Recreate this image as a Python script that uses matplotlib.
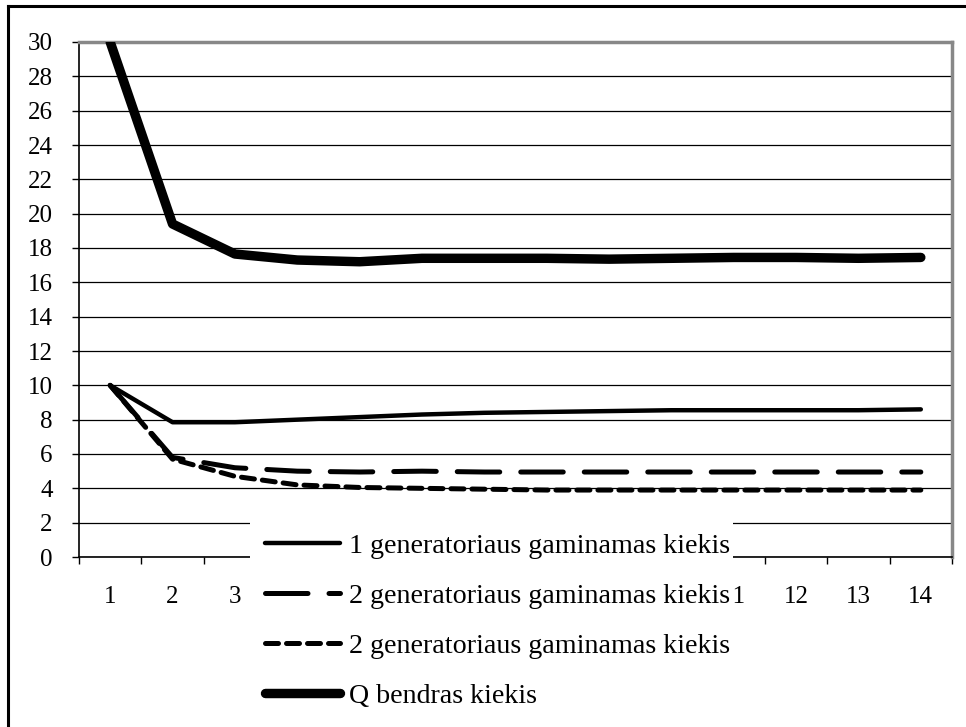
import matplotlib
matplotlib.use("Agg")
import matplotlib.pyplot as plt
from matplotlib.lines import Line2D
from matplotlib.patches import Rectangle

plt.rcParams['font.family'] = ['Liberation Serif', 'DejaVu Serif']

categories = [str(i) for i in range(1, 15)]
gen1 = [10, 7.85, 7.85, 8.0, 8.15, 8.3, 8.4, 8.45, 8.5, 8.55, 8.55, 8.55, 8.55, 8.6]
gen2 = [10, 5.8, 5.2, 5.0, 4.95, 5.0, 4.95, 4.95, 4.95, 4.95, 4.95, 4.95, 4.95, 4.95]
gen3 = [10, 5.7, 4.7, 4.2, 4.05, 4.0, 3.95, 3.9, 3.9, 3.9, 3.9, 3.9, 3.9, 3.9]
total = [30, 19.4, 17.65, 17.3, 17.2, 17.4, 17.4, 17.4, 17.35, 17.4, 17.45, 17.45, 17.4, 17.45]
labels = ["1 generatoriaus gaminamas kiekis",
          "2 generatoriaus gaminamas kiekis",
          "2 generatoriaus gaminamas kiekis",
          "Q bendras kiekis"]
yticks = list(range(0, 31, 2))

W, H = 966, 727
fig = plt.figure(figsize=(W / 100, H / 100), dpi=100)
ax = fig.add_axes([79 / W, 1 - 557 / H, (952 - 79) / W, (557 - 42) / H])

x = list(range(1, len(categories) + 1))
l1, = ax.plot(x, gen1, color='black', lw=3.2, solid_capstyle='round', solid_joinstyle='round', zorder=3)
l2, = ax.plot(x, gen2, color='black', lw=3.6, dashes=(8.5, 4.2), dash_capstyle='round', zorder=3)
l3, = ax.plot(x, gen3, color='black', lw=3.6, dashes=(2.6, 1.6), dash_capstyle='round', zorder=3)
l4, = ax.plot(x, total, color='black', lw=6.8, solid_capstyle='round', solid_joinstyle='round', zorder=4)

ax.set_xlim(0.5, len(categories) + 0.5)
ax.set_ylim(0, 30)
ax.set_yticks(yticks)
ax.set_yticklabels([str(v) for v in yticks])
ax.set_xticks([i + 0.5 for i in range(0, len(categories) + 1)])
ax.set_xticklabels([])
ax.set_xticks(x, minor=True)
ax.set_xticklabels(categories, minor=True)
ax.tick_params(axis='x', which='major', direction='out', length=5, width=1, color='black')
ax.tick_params(axis='x', which='minor', length=0, pad=21, labelsize=18)
ax.tick_params(axis='y', direction='out', length=5, width=1, labelsize=18, pad=14)
ax.yaxis.grid(True, color='black', lw=0.9)
ax.set_axisbelow(True)
for s in ['left', 'bottom']:
    ax.spines[s].set_color('black')
    ax.spines[s].set_linewidth(1.2)
for s in ['top', 'right']:
    ax.spines[s].set_color('#888888')
    ax.spines[s].set_linewidth(2.5)

# labels under the legend area are hidden in the reference
for t in ax.get_xticklabels(minor=True):
    if t.get_text() in ['4', '5', '6', '7', '8', '9', '10']:
        t.set_visible(False)

# white legend area
fig.patches.append(Rectangle((250 / W, 0), (733 - 250) / W, 1 - 521 / H,
                             transform=fig.transFigure, facecolor='white',
                             edgecolor='none', zorder=5))
leg = fig.legend([l1, l2, l3, l4], labels, loc='upper left',
                 bbox_to_anchor=(243 / W, 1 - 511 / H), frameon=False,
                 fontsize=20.2, handlelength=2.67, handletextpad=0.3,
                 labelspacing=0.87, borderpad=0.3)
leg.set_zorder(6)

# outer frame (top and left visible)
fig.add_artist(Line2D([8 / W, 1], [1 - 6 / H, 1 - 6 / H], transform=fig.transFigure,
                      color='black', lw=2.2))
fig.add_artist(Line2D([8 / W, 8 / W], [0, 1 - 6 / H], transform=fig.transFigure,
                      color='black', lw=2.2))

fig.savefig('out.png', dpi=100)
